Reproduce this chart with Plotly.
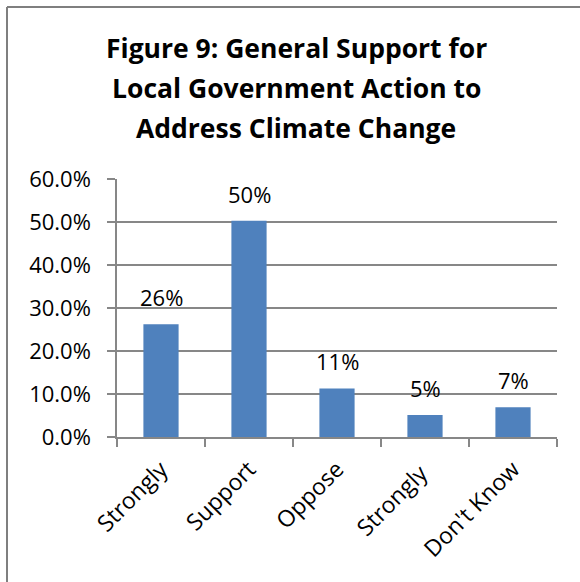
import plotly.graph_objects as go

# data
categories = ["Strongly", "Support", "Oppose", "Strongly ", "Don't Know"]
shares = [0.262, 0.503, 0.113, 0.051, 0.069]
labels = ["26%", "50%", "11%", "5%", "7%"]
title_lines = ["Figure 9: General Support for",
               "Local Government Action to",
               "Address Climate Change"]

W, H = 580, 582
L, R, T, B = 117, 23, 179, 145
plot_w = W - L - R
plot_h = H - T - B

font = "Open Sans"
grid_col = "#878787"
bar_col = "#4F81BD"

fig = go.Figure()
fig.add_trace(go.Bar(
    x=categories, y=shares, marker_color=bar_col, width=0.4,
    marker_line_width=0, hoverinfo="skip"
))

# data labels above the bars
for c, v, t in zip(categories, shares, labels):
    fig.add_annotation(x=c, y=v, text=t, showarrow=False, yanchor="bottom",
                       yshift=10, font=dict(family=font, size=22, color="#000"))

# title, one annotation per line so the line spacing matches
for i, line in enumerate(title_lines):
    py = 48 + i * 40
    fig.add_annotation(x=(296 - L) / plot_w, xref="paper",
                       y=(H - B - py) / plot_h, yref="paper",
                       text="<b>" + line + "</b>", showarrow=False,
                       xanchor="center", yanchor="middle",
                       font=dict(family=font, size=26.5, color="#000"))

# chart frame (left and top edges)
fx = -(L - 7) / plot_w
fy = (H - B - 7) / plot_h
fig.add_shape(type="line", xref="paper", yref="paper",
              x0=fx, x1=(W - L + 10) / plot_w, y0=fy, y1=fy,
              line=dict(color="#7f7f7f", width=2))
fig.add_shape(type="line", xref="paper", yref="paper",
              x0=fx, x1=fx, y0=fy, y1=-(B + 10) / plot_h,
              line=dict(color="#7f7f7f", width=2))

fig.update_layout(
    width=W, height=H,
    margin=dict(l=L, r=R, t=T, b=B, autoexpand=False),
    plot_bgcolor="white", paper_bgcolor="white",
    showlegend=False, bargap=0.6,
    font=dict(family=font, color="#000"),
)
fig.update_yaxes(
    range=[0, 0.6], dtick=0.1, tickformat=".1%",
    showgrid=True, gridcolor=grid_col, gridwidth=1.5,
    showline=True, linecolor=grid_col, linewidth=1.5,
    ticks="outside", ticklen=8, tickcolor=grid_col, tickwidth=1.5,
    ticklabelstandoff=12, zeroline=False,
    tickfont=dict(family=font, size=22, color="#000"),
)
fig.update_xaxes(
    showline=True, linecolor=grid_col, linewidth=1.5,
    ticks="outside", ticklen=8, tickcolor=grid_col, tickwidth=1.5,
    tickson="boundaries", tickangle=-45, showgrid=False,
    ticklabelstandoff=8,
    tickfont=dict(family=font, size=23, color="#000"),
)

fig.write_html("out.html", config={"displayModeBar": False},
               post_script="document.body.style.margin='0';")
